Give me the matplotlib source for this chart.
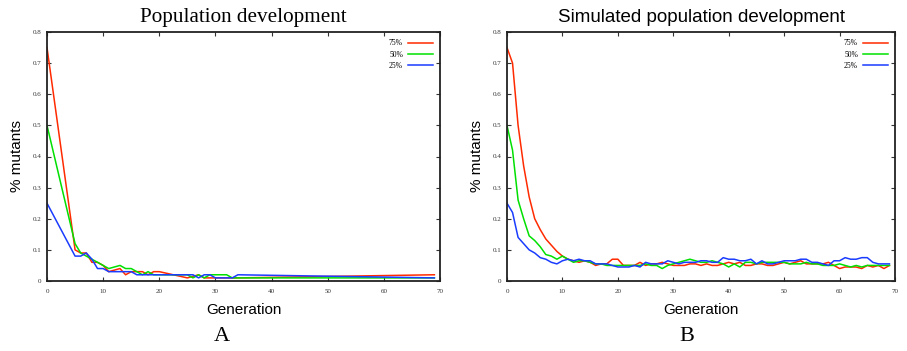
import numpy as np
import matplotlib
matplotlib.use('Agg')
import matplotlib.pyplot as plt

# --- panel A: measured population development (irregular generations) ---
gen_a = [0, 5, 6, 7, 8, 9, 10, 11, 12, 13, 14, 15, 16, 17, 18, 19, 20,
         25, 26, 27, 28, 29, 30, 32, 33, 34, 69]
red_a = [0.75, 0.10, 0.09, 0.09, 0.06, 0.06, 0.05, 0.03, 0.035, 0.04, 0.02, 0.03, 0.03, 0.03, 0.02, 0.03, 0.03,
         0.01, 0.015, 0.02, 0.01, 0.01, 0.01, 0.01, 0.01, 0.01, 0.02]
green_a = [0.50, 0.12, 0.09, 0.08, 0.07, 0.06, 0.05, 0.04, 0.045, 0.05, 0.04, 0.04, 0.03, 0.02, 0.03, 0.02, 0.02,
           0.02, 0.01, 0.02, 0.01, 0.02, 0.02, 0.02, 0.01, 0.01, 0.01]
blue_a = [0.25, 0.08, 0.08, 0.09, 0.07, 0.04, 0.04, 0.03, 0.03, 0.03, 0.03, 0.03, 0.02, 0.02, 0.02, 0.02, 0.02,
          0.02, 0.02, 0.01, 0.02, 0.02, 0.01, 0.01, 0.01, 0.02, 0.01]

# --- panel B: simulated, one value per generation 0..69 ---
gen_b = list(range(70))
red_b = [0.75, 0.70, 0.50, 0.37, 0.27, 0.20, 0.165, 0.135, 0.115, 0.095,
         0.08, 0.07, 0.065, 0.06, 0.065, 0.06, 0.05, 0.055, 0.055, 0.07,
         0.07, 0.05, 0.05, 0.05, 0.06, 0.05, 0.055, 0.055, 0.06, 0.055,
         0.05, 0.05, 0.05, 0.055, 0.055, 0.05, 0.055, 0.05, 0.05, 0.055,
         0.06, 0.055, 0.06, 0.05, 0.05, 0.055, 0.055, 0.05, 0.05, 0.055,
         0.06, 0.055, 0.06, 0.065, 0.055, 0.055, 0.055, 0.055, 0.06, 0.05,
         0.04, 0.045, 0.045, 0.045, 0.04, 0.05, 0.045, 0.05, 0.04, 0.05]
green_b = [0.50, 0.42, 0.26, 0.20, 0.145, 0.13, 0.11, 0.085, 0.08, 0.07,
           0.08, 0.07, 0.06, 0.065, 0.065, 0.06, 0.055, 0.055, 0.05, 0.05,
           0.05, 0.05, 0.05, 0.05, 0.05, 0.055, 0.05, 0.05, 0.04, 0.05,
           0.055, 0.06, 0.065, 0.07, 0.065, 0.06, 0.06, 0.065, 0.06, 0.055,
           0.045, 0.055, 0.045, 0.06, 0.06, 0.055, 0.06, 0.06, 0.06, 0.06,
           0.06, 0.055, 0.055, 0.055, 0.06, 0.055, 0.055, 0.05, 0.05, 0.05,
           0.055, 0.05, 0.045, 0.05, 0.045, 0.05, 0.05, 0.05, 0.05, 0.05]
blue_b = [0.25, 0.22, 0.14, 0.12, 0.10, 0.09, 0.075, 0.07, 0.06, 0.055,
          0.065, 0.07, 0.065, 0.07, 0.065, 0.065, 0.055, 0.055, 0.055, 0.05,
          0.045, 0.045, 0.045, 0.05, 0.045, 0.06, 0.055, 0.055, 0.055, 0.065,
          0.06, 0.055, 0.06, 0.06, 0.06, 0.065, 0.065, 0.06, 0.06, 0.075,
          0.07, 0.07, 0.065, 0.065, 0.07, 0.055, 0.065, 0.055, 0.055, 0.06,
          0.065, 0.065, 0.065, 0.07, 0.07, 0.06, 0.06, 0.055, 0.05, 0.065,
          0.065, 0.075, 0.07, 0.07, 0.075, 0.075, 0.06, 0.055, 0.055, 0.055]

labels = ['75%', '50%', '25%']
colors = ['#ff2a00', '#00e000', '#1a3cff']

fig = plt.figure(figsize=(9.07, 3.51), dpi=100)
ax_a = fig.add_axes([47 / 907, 1 - 281 / 351, 393 / 907, 249 / 351])
ax_b = fig.add_axes([507 / 907, 1 - 281 / 351, 388 / 907, 249 / 351])

panels = [
    (ax_a, gen_a, [red_a, green_a, blue_a], 'Population development', 'Liberation Serif', 15.2, 'A', 0.445),
    (ax_b, gen_b, [red_b, green_b, blue_b], 'Simulated population development', 'Liberation Sans', 13.5, 'B', 0.464),
]

for ax, gen, series, title, title_font, title_size, letter, letter_x in panels:
    for ys, lab, c in zip(series, labels, colors):
        ax.plot(gen, ys, color=c, lw=1.1, label=lab)
    ax.set_xlim(0, 70)
    ax.set_ylim(0, 0.8)
    ax.set_xticks(range(0, 71, 10))
    ax.set_yticks(np.arange(0, 0.81, 0.1))
    ax.set_yticklabels(['0'] + [f'{v:.1f}' for v in np.arange(0.1, 0.81, 0.1)])
    ax.tick_params(direction='in', length=3, width=0.8, top=True, right=True,
                   labelsize=5, colors='#333333')
    ax.tick_params(axis='x', pad=6)
    ax.tick_params(axis='y', pad=4)
    for lbl in ax.get_xticklabels() + ax.get_yticklabels():
        lbl.set_family('Liberation Serif')
    for sp in ax.spines.values():
        sp.set_linewidth(1.3)
        sp.set_color('#222222')
    ax.set_title(title, family=title_font, fontsize=title_size, pad=7)
    ax.set_xlabel('Generation', family='Liberation Sans', fontsize=11, labelpad=6)
    ax.set_ylabel('% mutants', family='Liberation Sans', fontsize=11, labelpad=6)
    ax.text(letter_x, -0.222, letter, transform=ax.transAxes, ha='center', va='center',
            family='Liberation Serif', fontsize=16)
    ax.legend(loc='upper right', frameon=False, markerfirst=False,
              handlelength=3.2, handletextpad=0.7,
              labelspacing=0.45, borderaxespad=0.55,
              prop={'family': 'Liberation Serif', 'size': 5.5})

fig.savefig('out.png', dpi=100)
